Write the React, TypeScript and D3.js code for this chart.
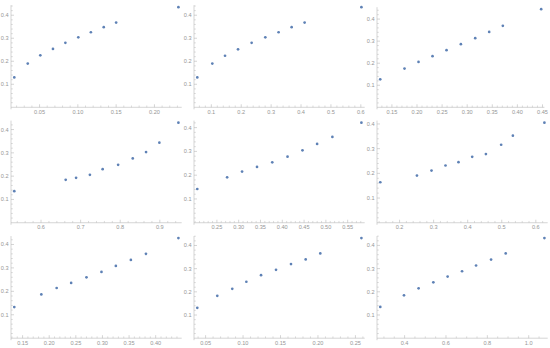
import React from 'react';
import * as d3 from 'd3';

// values (row by row)
const x1 = [0.017, 0.0346, 0.051, 0.0675, 0.0837, 0.1006, 0.117, 0.1338, 0.150, 0.2313];
const y1 = [0.130, 0.19, 0.226, 0.2535, 0.28, 0.304, 0.326, 0.348, 0.368, 0.435];
const x2 = [0.053, 0.1033, 0.1458, 0.1893, 0.2348, 0.2806, 0.325, 0.3686, 0.412, 0.602];
const y2 = [0.130, 0.19, 0.224, 0.252, 0.28, 0.304, 0.326, 0.348, 0.368, 0.435];
const x3 = [0.1267, 0.1751, 0.203, 0.2309, 0.2588, 0.2874, 0.316, 0.3438, 0.371, 0.4474];
const y3 = [0.127, 0.1755, 0.206, 0.232, 0.259, 0.2864, 0.3136, 0.342, 0.3695, 0.445];
const x4 = [0.5325, 0.6623, 0.6885, 0.7234, 0.7556, 0.7947, 0.8316, 0.8652, 0.8988, 0.9469];
const y4 = [0.1353, 0.184, 0.1927, 0.2056, 0.230, 0.2487, 0.2759, 0.3034, 0.3435, 0.4297];
const x5 = [0.205, 0.2735, 0.3077, 0.342, 0.377, 0.412, 0.4463, 0.4799, 0.5149, 0.5815];
const y5 = [0.142, 0.191, 0.215, 0.2347, 0.254, 0.278, 0.3046, 0.3315, 0.361, 0.421];
const x6 = [0.1434, 0.251, 0.2938, 0.3349, 0.373, 0.4132, 0.4534, 0.4982, 0.5326, 0.6252];
const y6 = [0.164, 0.191, 0.2113, 0.2317, 0.2453, 0.267, 0.278, 0.3158, 0.3525, 0.4054];
const x7 = [0.1344, 0.1852, 0.214, 0.2412, 0.27, 0.2982, 0.3252, 0.3534, 0.3817, 0.4427];
const y7 = [0.133, 0.187, 0.2143, 0.2357, 0.26, 0.283, 0.3086, 0.334, 0.36, 0.4273];
const x8 = [0.0389, 0.0656, 0.0856, 0.1044, 0.124, 0.144, 0.164, 0.1836, 0.2031, 0.258];
const y8 = [0.131, 0.183, 0.213, 0.2435, 0.272, 0.295, 0.3197, 0.3397, 0.3657, 0.432];
const x9 = [0.2824, 0.397, 0.4677, 0.5389, 0.608, 0.6777, 0.7454, 0.818, 0.8887, 1.0759];
const y9 = [0.1346, 0.185, 0.215, 0.241, 0.2658, 0.2887, 0.3134, 0.339, 0.3654, 0.4316];

// tick labels
const xTicks1 = ['0.05', '0.10', '0.15', '0.20'];
const xTicks2 = ['0.1', '0.2', '0.3', '0.4', '0.5', '0.6'];
const xTicks3 = ['0.15', '0.20', '0.25', '0.30', '0.35', '0.40', '0.45'];
const xTicks4 = ['0.6', '0.7', '0.8', '0.9'];
const xTicks5 = ['0.25', '0.30', '0.35', '0.40', '0.45', '0.50', '0.55'];
const xTicks6 = ['0.2', '0.3', '0.4', '0.5', '0.6'];
const xTicks7 = ['0.15', '0.20', '0.25', '0.30', '0.35', '0.40'];
const xTicks8 = ['0.05', '0.10', '0.15', '0.20', '0.25'];
const xTicks9 = ['0.4', '0.6', '0.8', '1.0'];
const yTicks = ['0.1', '0.2', '0.3', '0.4'];

const panels = [
  { xs: x1, ys: y1, ticks: xTicks1 },
  { xs: x2, ys: y2, ticks: xTicks2 },
  { xs: x3, ys: y3, ticks: xTicks3 },
  { xs: x4, ys: y4, ticks: xTicks4 },
  { xs: x5, ys: y5, ticks: xTicks5 },
  { xs: x6, ys: y6, ticks: xTicks6 },
  { xs: x7, ys: y7, ticks: xTicks7 },
  { xs: x8, ys: y8, ticks: xTicks8 },
  { xs: x9, ys: y9, ticks: xTicks9 },
];

// layout
const COL_W = 183;
const ROW_H = 115.45;
const AXIS_LEFT = 11;
const FRAME_BOTTOM = 109.3;
const ASPECT = 0.61;
const plotWidths = [170.7, 170.7, 167.4, 170.7, 170.7, 170.7, 170.7, 170.7, 170.7];

const AXIS = '#b8b8b8';
const LABEL = '#969696';
const POINT = '#5e81b5';
const FONT = '"Liberation Sans", Arial, sans-serif';

function minorTicks(domain: number[], major: number, majors: number[]) {
  const mant = Math.round(major / Math.pow(10, Math.floor(Math.log10(major))));
  const step = mant === 2 ? major / 4 : major / 5;
  const lo = Math.ceil(domain[0] / step - 1e-6);
  const hi = Math.floor(domain[1] / step + 1e-6);
  return d3.range(lo, hi + 1)
    .map(i => i * step)
    .filter(v => !majors.some(m => Math.abs(m - v) < step / 10) && Math.abs(v) > step / 10);
}

function Panel({ xs, ys, ticks, col, row, width }: any) {
  const left = col * COL_W + AXIS_LEFT;
  const bottom = FRAME_BOTTOM + row * ROW_H;
  const h = width * ASPECT;

  const [xmin, xmax] = d3.extent(xs) as [number, number];
  const xpad = 0.02 * (xmax - xmin);
  const xScale = d3.scaleLinear().domain([xmin - xpad, xmax + xpad]).range([left, left + width]);
  const ymax = d3.max(ys) as number;
  const yScale = d3.scaleLinear().domain([-0.02 * ymax, 1.02 * ymax]).range([bottom, bottom - h]);

  const xMajor = ticks.map(Number);
  const xMinor = minorTicks(xScale.domain(), xMajor[1] - xMajor[0], xMajor);
  const yMajor = yTicks.map(Number);
  const yMinor = minorTicks(yScale.domain(), 0.1, yMajor);
  const y0 = yScale(0);

  return (
    <g>
      <line x1={left} x2={left + width} y1={y0} y2={y0} stroke={AXIS} strokeWidth={0.6} />
      <line x1={left} x2={left} y1={bottom} y2={bottom - h} stroke={AXIS} strokeWidth={0.6} />
      {xMajor.map((v: number, i: number) => (
        <g key={'xm' + i}>
          <line x1={xScale(v)} x2={xScale(v)} y1={y0} y2={y0 - 3} stroke={AXIS} strokeWidth={0.6} />
          <text x={xScale(v)} y={y0 + 6.6} textAnchor="middle" fontSize={5.6} fill={LABEL} fontFamily={FONT}>
            {ticks[i]}
          </text>
        </g>
      ))}
      {xMinor.map((v, i) => (
        <line key={'xn' + i} x1={xScale(v)} x2={xScale(v)} y1={y0} y2={y0 - 1.8} stroke={AXIS} strokeWidth={0.5} />
      ))}
      {yMajor.map((v, i) => (
        <g key={'ym' + i}>
          <line x1={left} x2={left + 3} y1={yScale(v)} y2={yScale(v)} stroke={AXIS} strokeWidth={0.6} />
          <text x={left - 2.4} y={yScale(v) + 2} textAnchor="end" fontSize={5.6} fill={LABEL} fontFamily={FONT}>
            {yTicks[i]}
          </text>
        </g>
      ))}
      {yMinor.map((v, i) => (
        <line key={'yn' + i} x1={left} x2={left + 1.8} y1={yScale(v)} y2={yScale(v)} stroke={AXIS} strokeWidth={0.5} />
      ))}
      {xs.map((v: number, i: number) => (
        <circle key={'p' + i} cx={xScale(v)} cy={yScale(ys[i])} r={1.35} fill={POINT} />
      ))}
    </g>
  );
}

export default function App() {
  return (
    <svg width={550} height={348} style={{ position: 'absolute', left: 0, top: 0, background: '#fff' }}>
      {panels.map((p, i) => (
        <Panel key={i} {...p} col={i % 3} row={Math.floor(i / 3)} width={plotWidths[i]} />
      ))}
    </svg>
  );
}
